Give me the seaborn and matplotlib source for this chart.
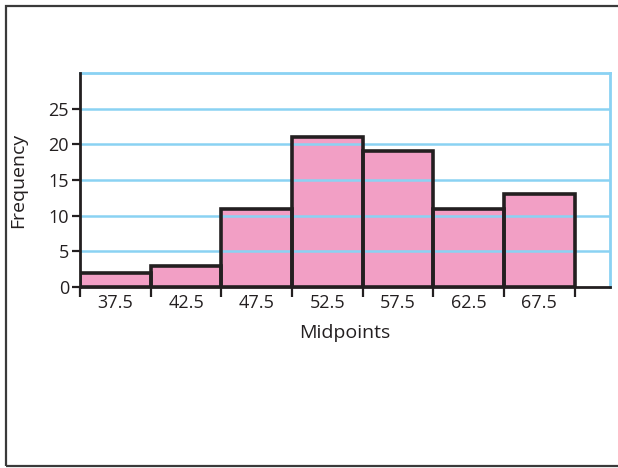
import matplotlib
matplotlib.use("Agg")
import matplotlib.pyplot as plt
import matplotlib.patches as mpatches
import seaborn as sns
import pandas as pd

midpoints = [37.5, 42.5, 47.5, 52.5, 57.5, 62.5, 67.5]
frequencies = [2, 3, 11, 21, 19, 11, 13]
bin_edges = [35, 40, 45, 50, 55, 60, 65, 70]
y_ticks = [0, 5, 10, 15, 20, 25]

sns.set_theme(style="white")
plt.rcParams["font.family"] = ["Open Sans", "DejaVu Sans"]

dark = "#231f20"
blue = "#8ad2f3"
pink = "#f29fc5"

df = pd.DataFrame({"Midpoints": midpoints, "Frequency": frequencies})

fig = plt.figure(figsize=(6.18, 4.68), dpi=100)
ax = fig.add_axes([80 / 618, 1 - 287 / 468, 530 / 618, 214 / 468])

# filled bars
sns.histplot(data=df, x="Midpoints", weights="Frequency", bins=bin_edges,
             color=pink, alpha=1, edgecolor="none", linewidth=0, ax=ax, zorder=1)
# horizontal grid over the fill
for y in y_ticks[1:]:
    ax.axhline(y, color=blue, lw=1.8, zorder=2)
# bar outlines on top
sns.histplot(data=df, x="Midpoints", weights="Frequency", bins=bin_edges,
             fill=False, element="bars", color=dark, edgecolor=dark,
             linewidth=2.6, ax=ax, zorder=3)

ax.set_xlim(35, 72.5)
ax.set_ylim(0, 30)

ax.set_yticks(y_ticks)
ax.set_yticklabels([str(v) for v in y_ticks])
ax.set_xticks(bin_edges)
ax.set_xticklabels([])
ax.set_xticks(midpoints, minor=True)
ax.set_xticklabels([str(m) for m in midpoints], minor=True)

ax.tick_params(axis="y", which="major", direction="out", length=6, width=1.6,
               color=dark, labelcolor=dark, labelsize=13, pad=2, left=True)
ax.tick_params(axis="x", which="major", direction="out", length=7, width=1.6,
               color=dark, bottom=True)
ax.tick_params(axis="x", which="minor", length=0, labelcolor=dark,
               labelsize=13, pad=5, bottom=True)

for side in ("left", "bottom"):
    ax.spines[side].set_color(dark)
    ax.spines[side].set_linewidth(2.0)
    ax.spines[side].set_zorder(4)
for side in ("top", "right"):
    ax.spines[side].set_color(blue)
    ax.spines[side].set_linewidth(2.0)
    ax.spines[side].set_visible(True)

ax.set_xlabel("Midpoints", fontsize=14, color=dark, labelpad=9)
ax.set_ylabel("Frequency", fontsize=14, color=dark, labelpad=15)

# outer frame around the figure
frame = mpatches.Rectangle((6 / 618, 1 - 466 / 468), 1.0, (466 - 6) / 468,
                           transform=fig.transFigure, fill=False,
                           edgecolor="#3a3a3a", linewidth=1.6, clip_on=False)
fig.patches.append(frame)

fig.savefig("out.png", dpi=100)
